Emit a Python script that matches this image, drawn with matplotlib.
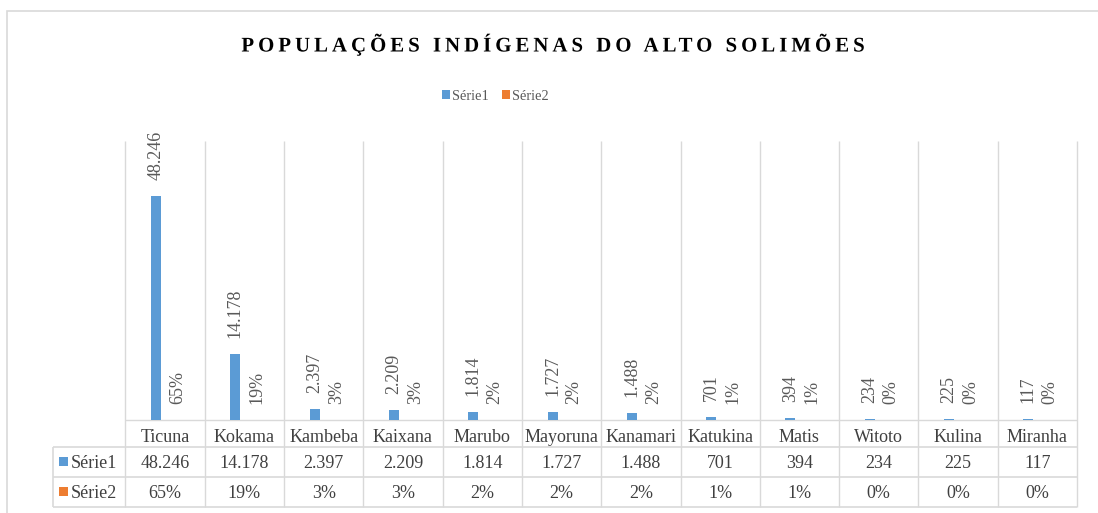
import matplotlib
matplotlib.use('Agg')
import matplotlib.pyplot as plt
import numpy as np
from matplotlib.patches import Rectangle
from matplotlib.path import Path
from matplotlib.patheffects import AbstractPathEffect
from matplotlib.transforms import IdentityTransform, blended_transform_factory

# ---------------- data ----------------
categories = ['Ticuna', 'Kokama', 'Kambeba', 'Kaixana', 'Marubo', 'Mayoruna',
              'Kanamari', 'Katukina', 'Matis', 'Witoto', 'Kulina', 'Miranha']
serie1 = [48246, 14178, 2397, 2209, 1814, 1727, 1488, 701, 394, 234, 225, 117]
serie2 = [0.65, 0.19, 0.03, 0.03, 0.02, 0.02, 0.02, 0.01, 0.01, 0.00, 0.00, 0.00]
series_names = ['Série1', 'Série2']
title = 'POPULAÇÕES INDÍGENAS DO ALTO SOLIMÕES'

# ---------------- style ----------------
BLUE = '#5B9BD5'
ORANGE = '#ED7D31'
GRID = '#D9D9D9'
LABEL_C = '#595959'
TABLE_C = '#404040'
plt.rcParams['font.family'] = ['Liberation Serif', 'DejaVu Serif']


class LetterSpacing(AbstractPathEffect):
    """Draws the text path with extra space between characters."""
    def __init__(self, text_artist, spacing_px):
        super().__init__()
        self.t = text_artist
        self.sp = spacing_px

    def draw_path(self, renderer, gc, tpath, affine, rgbFace=None):
        s = self.t.get_text()
        prop = self.t.get_fontproperties()
        path = affine.transform_path(tpath)
        verts = path.vertices.copy()
        codes = path.codes
        ox = affine.transform((0, 0))[0]
        bounds = [0.0]
        for i in range(1, len(s) + 1):
            w, _, _ = renderer.get_text_width_height_descent(s[:i], prop, ismath=False)
            bounds.append(w)
        bounds = np.array(bounds) + ox
        starts = list(np.where(codes == Path.MOVETO)[0]) + [len(codes)]
        nchar = len(s)
        shift_all = -(nchar - 1) * self.sp / 2.0
        for a, b in zip(starts[:-1], starts[1:]):
            seg = verts[a:b]
            cx = (seg[:, 0].min() + seg[:, 0].max()) / 2.0
            idx = int(np.clip(np.searchsorted(bounds, cx) - 1, 0, nchar - 1))
            verts[a:b, 0] += idx * self.sp + shift_all
        renderer.draw_path(gc, Path(verts, codes), IdentityTransform(), rgbFace)


W, H = 1098, 513
fig = plt.figure(figsize=(W / 100, H / 100), dpi=100)

AX_L, AX_R, AX_T, AX_B = 125.4, 1077.0, 141.0, 420.0
ax = fig.add_axes([AX_L / W, 1 - AX_B / H, (AX_R - AX_L) / W, (AX_B - AX_T) / H])
n = len(categories)
unit = (AX_R - AX_L) / n


def px2x(px):
    return -0.5 + (px - AX_L) / unit


def py2y(py):
    return -(py - AX_B) / (AX_B - AX_T)


x = np.arange(n)
bw = 10 / unit
off1 = -9 / unit
off2 = 12.5 / unit
b1 = ax.bar(x + off1, serie1, bw, color=BLUE, label=series_names[0], zorder=3)
b2 = ax.bar(x + off2, serie2, bw, color=ORANGE, label=series_names[1], zorder=3)
ax.set_xlim(-0.5, n - 0.5)
ax.set_ylim(0, 60000)
ax.axis('off')

trans = blended_transform_factory(ax.transData, ax.transAxes)
edges = np.arange(n + 1) - 0.5
# vertical gridlines / table column borders
ax.vlines(edges, py2y(507), 1, transform=trans, colors=GRID, lw=1.0, clip_on=False, zorder=1)
# category axis line
ax.hlines(0, -0.5, n - 0.5, transform=trans, colors=GRID, lw=1.0, clip_on=False, zorder=1)
# table row borders
ax.hlines([py2y(447), py2y(477), py2y(507)], px2x(53), n - 0.5, transform=trans,
          colors=GRID, lw=1.2, clip_on=False, zorder=1)
ax.vlines(px2x(53), py2y(507), py2y(447), transform=trans, colors=GRID, lw=1.2,
          clip_on=False, zorder=1)

# data labels
FS = 13
for xi, v in zip(x, serie1):
    ax.annotate(f'{v:,}'.replace(',', '.'), (xi + off1, v), xytext=(0, 11.5),
                textcoords='offset points', rotation=90, ha='center', va='bottom',
                fontsize=FS, color=LABEL_C)
for xi, v in zip(x, serie2):
    ax.annotate(f'{v:.0%}', (xi + off2, v), xytext=(0, 11.5),
                textcoords='offset points', rotation=90, ha='center', va='bottom',
                fontsize=FS, color=LABEL_C)

# data table
for xi, cat, v1, v2 in zip(x, categories, serie1, serie2):
    ax.text(xi, py2y(442), cat, transform=trans, ha='center', va='baseline',
            fontsize=FS, color=TABLE_C)
    ax.text(xi, py2y(468), f'{v1:,}'.replace(',', '.'), transform=trans, ha='center',
            va='baseline', fontsize=FS, color=TABLE_C)
    ax.text(xi, py2y(498), f'{v2:.0%}', transform=trans, ha='center', va='baseline',
            fontsize=FS, color=TABLE_C)

for name, col, top, base in [(series_names[0], BLUE, 457, 468), (series_names[1], ORANGE, 487, 498)]:
    ax.add_patch(Rectangle((px2x(59), py2y(top + 9)), 9 / unit, 9 / (AX_B - AX_T),
                           transform=trans, facecolor=col, edgecolor='none', clip_on=False))
    ax.text(px2x(71), py2y(base), name, transform=trans, ha='left', va='baseline',
            fontsize=FS, color=TABLE_C)

# title with letter spacing
t = fig.text(553.5 / W, 1 - 51.5 / H, title, ha='center', va='baseline', fontsize=15,
             fontweight='bold', color='#000000')
t.set_path_effects([LetterSpacing(t, 4.0)])

# legend
fig.legend(handles=[b1, b2], labels=series_names, loc='center',
           bbox_to_anchor=(495.5 / W, 1 - 96 / H), ncol=2, frameon=False,
           prop={'family': 'Liberation Serif', 'size': 10.4}, labelcolor=LABEL_C,
           handlelength=0.55, handleheight=0.55, handletextpad=0.15, columnspacing=0.9)

# outer chart frame
fig.add_artist(Rectangle((7 / W, -0.05), 1.0, 1 - 11 / H + 0.05, transform=fig.transFigure,
                         fill=False, edgecolor=GRID, lw=1.2))

fig.savefig('out.png', dpi=100)
